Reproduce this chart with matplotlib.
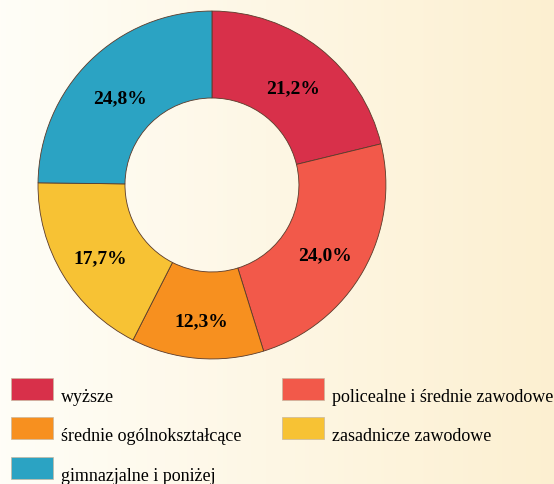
import numpy as np
import matplotlib.pyplot as plt
from matplotlib.patches import Rectangle

categories = [
    "wyższe",
    "policealne i średnie zawodowe",
    "średnie ogólnokształcące",
    "zasadnicze zawodowe",
    "gimnazjalne i poniżej",
]
shares = [21.2, 24.0, 12.3, 17.7, 24.8]
colors = ["#d8304a", "#f2594a", "#f7901f", "#f7c234", "#2ba3c3"]

plt.rcParams["font.family"] = ["Liberation Serif", "DejaVu Serif"]

fig = plt.figure(figsize=(5.54, 4.84), dpi=100)

# background gradient: white on the left, cream on the right
bg = fig.add_axes([0, 0, 1, 1], zorder=-10)
grad = np.linspace(0, 1, 256)[None, :]
left = np.array([1.0, 0.995, 0.97])
right = np.array([0.99, 0.94, 0.82])
img = left[None, None, :] * (1 - grad[..., None]) + right[None, None, :] * grad[..., None]
bg.imshow(img, aspect="auto", extent=[0, 1, 0, 1])
bg.axis("off")

ax = fig.add_axes([0.0686, 0.2583, 0.628, 0.719])
wedges, texts = ax.pie(
    shares,
    colors=colors,
    startangle=90,
    counterclock=False,
    radius=1,
    wedgeprops=dict(width=0.5, edgecolor="#5a3a2a", linewidth=0.6),
)
for w, v in zip(wedges, shares):
    ang = np.deg2rad((w.theta1 + w.theta2) / 2)
    ax.text(
        0.75 * np.cos(ang),
        0.75 * np.sin(ang) - 0.025,
        f"{v:.1f}%".replace(".", ","),
        ha="center",
        va="center_baseline",
        fontsize=14,
        fontweight="bold",
    )
ax.set_xlim(-1, 1)
ax.set_ylim(-1, 1)
ax.set_aspect("equal")
ax.axis("off")

# legend laid out in two columns, row by row
W, H = 554, 484
row_top = [378, 417, 457]
for i, (lab, col) in enumerate(zip(categories, colors)):
    r, c = divmod(i, 2)
    x0 = 11 if c == 0 else 282
    y0 = row_top[r]
    fig.patches.append(
        Rectangle((x0 / W, 1 - (y0 + 22) / H), 42 / W, 22 / H,
                  transform=fig.transFigure, facecolor=col,
                  edgecolor="#c8b8a0", linewidth=0.5)
    )
    fig.text((x0 + 50) / W, 1 - (y0 + 24) / H, lab, fontsize=13,
             va="baseline", ha="left")

fig.savefig("out.png", dpi=100)
